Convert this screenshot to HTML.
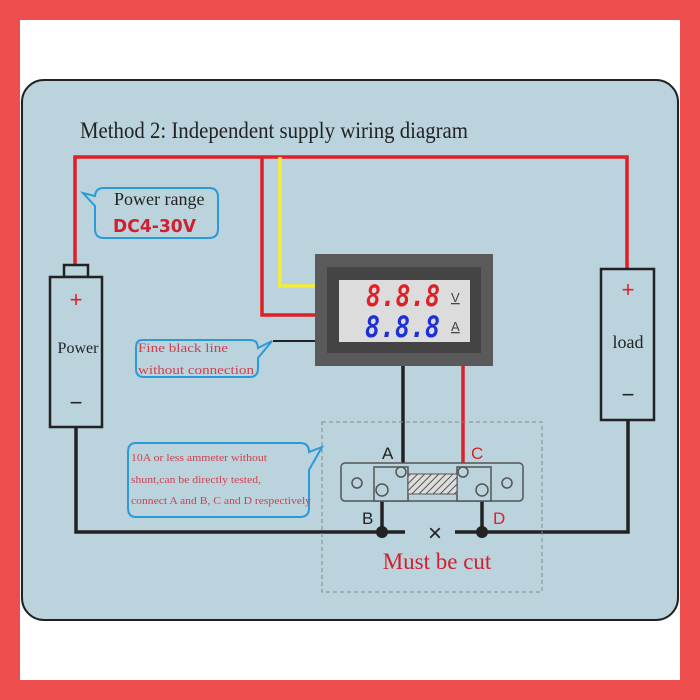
<!DOCTYPE html>
<html><head><style>body{margin:0}svg{display:block}</style></head><body>
<svg width="700" height="700" viewBox="0 0 700 700" xmlns="http://www.w3.org/2000/svg">
<rect width="700" height="700" fill="#ee4d4d"/>
<rect x="20" y="20" width="660" height="660" fill="#fff"/>
<rect x="22" y="80" width="656" height="540" rx="22" fill="#bad3dd" stroke="#222" stroke-width="2"/>
<text x="80" y="138" font-family="Liberation Serif,serif" font-size="23" fill="#222" textLength="388" lengthAdjust="spacingAndGlyphs">Method 2: Independent supply wiring diagram</text>
<g fill="none" stroke-width="3.5">
<polyline points="75,265 75,157 627,157 627,269" stroke="#e02027"/>
<polyline points="262,157 262,315 318,315" stroke="#e02027"/>
<polyline points="280,157 280,286 318,286" stroke="#f5ee30"/>
<line x1="273" y1="341" x2="318" y2="341" stroke="#222" stroke-width="2"/>
<polyline points="76,427 76,532 405,532" stroke="#222"/>
<polyline points="455,532 628,532 628,420" stroke="#222"/>
<line x1="403" y1="366" x2="403" y2="472" stroke="#222"/>
<line x1="463" y1="366" x2="463" y2="472" stroke="#e02027"/>
<line x1="382" y1="490" x2="382" y2="532" stroke="#222"/>
<line x1="482" y1="490" x2="482" y2="532" stroke="#222"/>
</g>
<circle cx="382" cy="532" r="6" fill="#222"/><circle cx="482" cy="532" r="6" fill="#222"/>
<!-- meter -->
<rect x="315" y="254" width="178" height="112" fill="#5a5a5a"/>
<rect x="327" y="267" width="154" height="86" fill="#444"/>
<rect x="339" y="280" width="131" height="62" fill="#dcdcdc"/>
<text x="366" y="306" font-family="DejaVu Sans Mono,monospace" font-weight="bold" font-style="italic" font-size="29" fill="#e02027" textLength="74" lengthAdjust="spacingAndGlyphs">8.8.8</text>
<text x="365" y="337" font-family="DejaVu Sans Mono,monospace" font-weight="bold" font-style="italic" font-size="29" fill="#1d2fd8" textLength="75" lengthAdjust="spacingAndGlyphs">8.8.8</text>
<text x="451" y="302" font-family="Liberation Sans,sans-serif" font-size="13" fill="#444" text-decoration="underline">V</text>
<text x="451" y="331" font-family="Liberation Sans,sans-serif" font-size="13" fill="#444" text-decoration="underline">A</text>
<!-- power -->
<rect x="64" y="265" width="24" height="12" fill="#bad3dd" stroke="#222" stroke-width="2.5"/>
<rect x="50" y="277" width="52" height="150" fill="#bad3dd" stroke="#222" stroke-width="2.5"/>
<text x="76" y="307" text-anchor="middle" font-family="Liberation Sans,sans-serif" font-size="22" fill="#e02027">+</text>
<text x="78" y="353" text-anchor="middle" font-family="Liberation Serif,serif" font-size="16" fill="#222">Power</text>
<text x="76" y="410" text-anchor="middle" font-family="Liberation Sans,sans-serif" font-size="22" fill="#222">−</text>
<!-- load -->
<rect x="601" y="269" width="53" height="151" fill="#bad3dd" stroke="#222" stroke-width="2.5"/>
<text x="628" y="297" text-anchor="middle" font-family="Liberation Sans,sans-serif" font-size="22" fill="#e02027">+</text>
<text x="628" y="348" text-anchor="middle" font-family="Liberation Serif,serif" font-size="18" fill="#222">load</text>
<text x="628" y="402" text-anchor="middle" font-family="Liberation Sans,sans-serif" font-size="22" fill="#222">−</text>
<!-- shunt -->
<rect x="322" y="422" width="220" height="170" fill="none" stroke="#888" stroke-dasharray="4,3"/>
<rect x="341" y="463" width="182" height="38" rx="4" fill="#bad3dd" stroke="#555" stroke-width="1.5"/>
<rect x="374" y="467" width="34" height="34" fill="#bad3dd" stroke="#555" stroke-width="1.5"/>
<rect x="457" y="467" width="34" height="34" fill="#bad3dd" stroke="#555" stroke-width="1.5"/>
<defs><pattern id="h" width="5" height="5" patternUnits="userSpaceOnUse" patternTransform="rotate(45)"><rect width="5" height="5" fill="#ddd"/><line x1="0" y1="0" x2="0" y2="5" stroke="#555" stroke-width="2"/></pattern></defs>
<rect x="408" y="474" width="49" height="20" fill="url(#h)" stroke="#555"/>
<g fill="none" stroke="#555" stroke-width="1.5">
<circle cx="357" cy="483" r="5"/><circle cx="507" cy="483" r="5"/>
<circle cx="401" cy="472" r="5"/><circle cx="463" cy="472" r="5"/>
<circle cx="382" cy="490" r="6"/><circle cx="482" cy="490" r="6"/>
</g>
<g font-family="Liberation Sans,sans-serif" font-size="17">
<text x="382" y="459" fill="#222">A</text><text x="471" y="459" fill="#e02027">C</text>
<text x="362" y="524" fill="#222">B</text><text x="493" y="524" fill="#e02027">D</text>
</g>
<text x="435" y="541" text-anchor="middle" font-family="Liberation Sans,sans-serif" font-size="24" fill="#222">×</text>
<text x="437" y="569" text-anchor="middle" font-family="Liberation Serif,serif" font-size="23" fill="#d02030">Must be cut</text>
<!-- callouts -->
<g fill="none" stroke="#2a9ad8" stroke-width="2">
<path d="M104,188 H209 Q218,188 218,197 V229 Q218,238 209,238 H104 Q95,238 95,229 V206 L83,193 L95,196 V197 Q95,188 104,188 Z"/>
<path d="M142,340 H250 Q258,340 258,348 L272,341 L258,358 V368 Q258,377 250,377 H144 Q136,377 136,369 V348 Q136,340 142,340 Z"/>
<path d="M136,443 H300 Q309,443 309,452 L322,447 L309,470 V508 Q309,517 300,517 H136 Q128,517 128,508 V452 Q128,443 136,443 Z"/>
</g>
<text x="114" y="205" font-family="Liberation Serif,serif" font-size="18" fill="#222">Power range</text>
<text x="113" y="232" font-family="DejaVu Sans,sans-serif" font-weight="bold" font-size="18" fill="#d02030" textLength="83" lengthAdjust="spacingAndGlyphs">DC4-30V</text>
<g font-family="Liberation Serif,serif" fill="#d04050">
<text x="138" y="352" font-size="13" textLength="90" lengthAdjust="spacingAndGlyphs">Fine black line</text>
<text x="138" y="374" font-size="13" textLength="116" lengthAdjust="spacingAndGlyphs">without connection</text>
<text x="131" y="461" font-size="11" textLength="136" lengthAdjust="spacingAndGlyphs">10A or less ammeter without</text>
<text x="131" y="483" font-size="11" textLength="130" lengthAdjust="spacingAndGlyphs">shunt,can be directly tested,</text>
<text x="131" y="504" font-size="11" textLength="180" lengthAdjust="spacingAndGlyphs">connect A and B, C and D respectively</text>
</g>
</svg>
</body></html>
